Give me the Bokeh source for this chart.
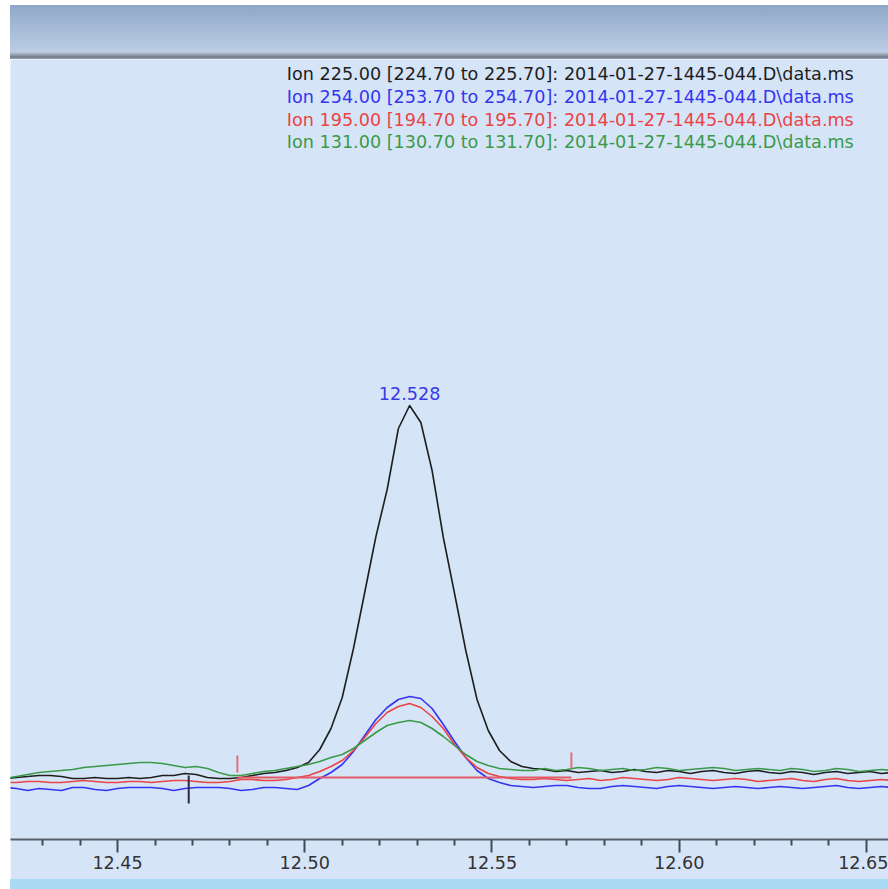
from bokeh.plotting import figure
from bokeh.models import Range1d, FixedTicker, PrintfTickFormatter, Label, Div, ColumnDataSource
from bokeh.layouts import column
from bokeh.embed import file_html
from bokeh.resources import INLINE

# Retention time of each scan (min)
scan_times = [
    12.420, 12.423, 12.426, 12.429, 12.432, 12.435, 12.438, 12.441, 12.444, 12.447,
    12.450, 12.453, 12.456, 12.459, 12.462, 12.465, 12.468, 12.471, 12.474, 12.477,
    12.480, 12.483, 12.486, 12.489, 12.492, 12.495, 12.498, 12.501, 12.504, 12.507,
    12.510, 12.513, 12.516, 12.519, 12.522, 12.525, 12.528, 12.531, 12.534, 12.537,
    12.540, 12.543, 12.546, 12.549, 12.552, 12.555, 12.558, 12.561, 12.564, 12.567,
    12.570, 12.573, 12.576, 12.579, 12.582, 12.585, 12.588, 12.591, 12.594, 12.597,
    12.600, 12.603, 12.606, 12.609, 12.612, 12.615, 12.618, 12.621, 12.624, 12.627,
    12.630, 12.633, 12.636, 12.639, 12.642, 12.645, 12.648, 12.651, 12.654, 12.657,
]

# Extracted ion abundances
ion_225 = [
    6100, 6200, 6300, 6400, 6400, 6300, 6100, 6100, 6200, 6100,
    6100, 6200, 6100, 6200, 6400, 6400, 6600, 6500, 6200, 6100,
    6100, 6200, 6400, 6600, 6700, 6900, 7200, 7700, 9000, 11100,
    14200, 19100, 24700, 30300, 35000, 41100, 43400, 41700, 36900, 30200,
    24600, 18900, 14000, 10900, 8900, 7800, 7300, 7100, 7000, 6800,
    6900, 6700, 6800, 6900, 6700, 6800, 7000, 6800, 6700, 6900,
    6800, 6600, 6800, 6900, 6700, 6600, 6800, 6900, 6700, 6600,
    6800, 6700, 6500, 6700, 6800, 6600, 6700, 6800, 6600, 6700,
]
ion_254 = [
    5200, 5100, 4900, 5100, 5000, 4900, 5200, 5200, 5000, 4900,
    5100, 5200, 5200, 5200, 5100, 4900, 5100, 5200, 5200, 5200,
    5100, 4900, 5000, 5200, 5200, 5100, 5000, 5400, 6100, 6700,
    7500, 8800, 10400, 12000, 13200, 14000, 14300, 14100, 13100, 11500,
    9800, 8200, 6900, 6100, 5700, 5400, 5300, 5200, 5300, 5400,
    5400, 5200, 5100, 5100, 5300, 5400, 5300, 5200, 5100, 5300,
    5400, 5300, 5200, 5100, 5200, 5300, 5200, 5100, 5200, 5300,
    5200, 5100, 5200, 5300, 5400, 5200, 5100, 5200, 5300, 5200,
]
ion_195 = [
    5700, 5700, 5800, 5800, 5700, 5700, 5800, 5900, 5800, 5700,
    5700, 5800, 5800, 5700, 5800, 5900, 5900, 5800, 5700, 5700,
    5800, 6000, 6000, 5900, 5900, 6000, 6200, 6400, 6800, 7300,
    7900, 8900, 10200, 11600, 12700, 13300, 13600, 13200, 12300, 11100,
    9500, 8200, 7200, 6600, 6300, 6100, 6000, 6000, 6100, 6000,
    5900, 6000, 6100, 5900, 6000, 6200, 6100, 6000, 5900, 6000,
    6200, 6100, 6000, 5900, 6000, 6100, 6000, 5800, 5900, 6000,
    6100, 5900, 5800, 6000, 6100, 5900, 5800, 5900, 6000, 5900,
]
ion_131 = [
    6100, 6300, 6500, 6700, 6800, 6900, 7000, 7200, 7300, 7400,
    7500, 7600, 7700, 7700, 7600, 7400, 7200, 7300, 7100, 6700,
    6400, 6400, 6600, 6800, 6900, 7100, 7300, 7500, 7800, 8200,
    8500, 9100, 9900, 10700, 11400, 11700, 11900, 11700, 11100, 10300,
    9400, 8500, 7800, 7400, 7100, 7000, 6900, 6900, 7100, 6900,
    7000, 7200, 7100, 6900, 7000, 7100, 6900, 7000, 7200, 7100,
    6900, 7000, 7100, 7200, 7100, 6900, 7000, 7100, 7000, 6900,
    7100, 7000, 6800, 6900, 7100, 7000, 6800, 6900, 7000, 6900,
]

trace_labels = [
    "Ion 225.00 [224.70 to 225.70]: 2014-01-27-1445-044.D\\data.ms",
    "Ion 254.00 [253.70 to 254.70]: 2014-01-27-1445-044.D\\data.ms",
    "Ion 195.00 [194.70 to 195.70]: 2014-01-27-1445-044.D\\data.ms",
    "Ion 131.00 [130.70 to 131.70]: 2014-01-27-1445-044.D\\data.ms",
]
trace_colors = ["#1e1e1e", "#3535f0", "#ea4444", "#3a9a48"]

# Integration events for the main peak
integ_start = 12.482
integ_end = 12.5712
integ_level = 6200
integ_marks_low = [6700, 7100]
integ_marks_high = [8400, 8700]
scan_mark_time = 12.469
scan_mark_low = 3600
scan_mark_high = 6400

major_ticks = [12.45, 12.50, 12.55, 12.60, 12.65]
minor_ticks = [12.43, 12.44, 12.46, 12.47, 12.48, 12.49, 12.51, 12.52, 12.53, 12.54,
               12.56, 12.57, 12.58, 12.59, 12.61, 12.62, 12.63, 12.64]

BG = "#d6e4f8"
FONT = "DejaVu Sans"
FONT_SIZE = "17.6px"

p = figure(width=878, height=820,
           x_range=Range1d(12.4214, 12.6559), y_range=Range1d(0, 78000),
           output_backend="svg", toolbar_location=None, y_axis_location=None,
           background_fill_color=BG, border_fill_color=BG,
           min_border_left=0, min_border_right=0, min_border_top=0, min_border_bottom=40,
           outline_line_color=None)
p.grid.visible = False

src = ColumnDataSource(dict(t=scan_times, a225=ion_225, a254=ion_254, a195=ion_195, a131=ion_131))
for col, color in zip(["a225", "a254", "a195", "a131"], trace_colors):
    p.line("t", col, source=src, line_color=color, line_width=1.6, line_join="round")

# integration baseline and event ticks
p.segment(x0=[integ_start], y0=[integ_level], x1=[integ_end], y1=[integ_level],
          line_color="#e25a66", line_width=2)
p.segment(x0=[integ_start, integ_end], y0=integ_marks_low,
          x1=[integ_start, integ_end], y1=integ_marks_high,
          line_color="#e0707c", line_width=2)
p.segment(x0=[scan_mark_time], y0=[scan_mark_low], x1=[scan_mark_time], y1=[scan_mark_high],
          line_color="#2a2a44", line_width=2)

# apex label
imax = max(range(len(ion_225)), key=lambda i: ion_225[i])
p.add_layout(Label(x=scan_times[imax], y=ion_225[imax], y_offset=6,
                   text=f"{scan_times[imax]:.3f}", text_align="center", text_baseline="bottom",
                   text_color="#3a3ae6", text_font=FONT, text_font_size=FONT_SIZE))

# trace titles
title_y = [76600, 74300, 72000, 69800]
for txt, color, ty in zip(trace_labels, trace_colors, title_y):
    p.add_layout(Label(x=12.4952, y=ty, text=txt, text_align="left", text_baseline="middle",
                       text_color=color, text_font=FONT, text_font_size=FONT_SIZE))

ax = p.xaxis[0]
ax.ticker = FixedTicker(ticks=major_ticks, minor_ticks=minor_ticks)
ax.formatter = PrintfTickFormatter(format="%.2f")
ax.axis_line_color = "#59606c"
ax.axis_line_width = 2
ax.major_tick_line_color = "#444a55"
ax.major_tick_line_width = 2
ax.major_tick_in = 0
ax.major_tick_out = 13
ax.minor_tick_line_color = "#444a55"
ax.minor_tick_line_width = 2
ax.minor_tick_in = 0
ax.minor_tick_out = 6
ax.major_label_standoff = 3
ax.major_label_text_font = FONT
ax.major_label_text_font_size = FONT_SIZE
ax.major_label_text_color = "#333333"

header = Div(width=878, height=54, margin=0, styles={
    "background": "linear-gradient(to bottom, #8ea8c8 0px, #bccde4 47px, #a3adbb 49px, "
                  "#6f7989 52px, #9ba7b8 54px)"})
footer = Div(width=878, height=10, margin=0, styles={"background": "#a9daf3"})

layout = column(header, p, footer, margin=(5, 0, 0, 10), spacing=0)

open("out.html", "w").write(file_html(layout, INLINE))
